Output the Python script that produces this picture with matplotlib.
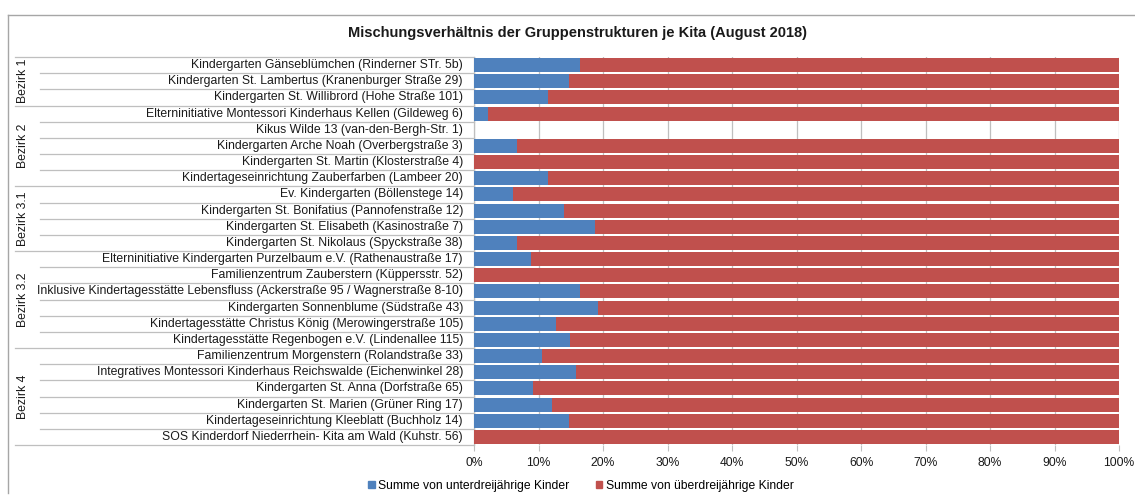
import matplotlib
matplotlib.use("Agg")
import matplotlib.pyplot as plt
from matplotlib.lines import Line2D
from matplotlib.patches import Rectangle
from matplotlib.ticker import PercentFormatter

plt.rcParams['font.family'] = ['Liberation Sans', 'DejaVu Sans']

title = "Mischungsverhältnis der Gruppenstrukturen je Kita (August 2018)"

kitas = [
    "Kindergarten Gänseblümchen (Rinderner STr. 5b)",
    "Kindergarten St. Lambertus (Kranenburger Straße 29)",
    "Kindergarten St. Willibrord (Hohe Straße 101)",
    "Elterninitiative Montessori Kinderhaus Kellen (Gildeweg 6)",
    "Kikus Wilde 13 (van-den-Bergh-Str. 1)",
    "Kindergarten Arche Noah (Overbergstraße 3)",
    "Kindergarten St. Martin (Klosterstraße 4)",
    "Kindertageseinrichtung Zauberfarben (Lambeer 20)",
    "Ev. Kindergarten (Böllenstege 14)",
    "Kindergarten St. Bonifatius (Pannofenstraße 12)",
    "Kindergarten St. Elisabeth (Kasinostraße 7)",
    "Kindergarten St. Nikolaus (Spyckstraße 38)",
    "Elterninitiative Kindergarten Purzelbaum e.V. (Rathenaustraße 17)",
    "Familienzentrum Zauberstern (Küppersstr. 52)",
    "Inklusive Kindertagesstätte Lebensfluss (Ackerstraße 95 / Wagnerstraße 8-10)",
    "Kindergarten Sonnenblume (Südstraße 43)",
    "Kindertagesstätte Christus König (Merowingerstraße 105)",
    "Kindertagesstätte Regenbogen e.V. (Lindenallee 115)",
    "Familienzentrum Morgenstern (Rolandstraße 33)",
    "Integratives Montessori Kinderhaus Reichswalde (Eichenwinkel 28)",
    "Kindergarten St. Anna (Dorfstraße 65)",
    "Kindergarten St. Marien (Grüner Ring 17)",
    "Kindertageseinrichtung Kleeblatt (Buchholz 14)",
    "SOS Kinderdorf Niederrhein- Kita am Wald (Kuhstr. 56)",
]

groups = ["Bezirk 1", "Bezirk 2", "Bezirk 3.1", "Bezirk 3.2", "Bezirk 4"]
group_sizes = [3, 5, 4, 6, 6]

# share (%) of children under three
unter3 = [16.5, 14.7, 11.5, 2.1, 0.0, 6.7, 0.0, 11.5, 6.1, 14.0, 18.8, 6.7,
          8.9, 0.0, 16.4, 19.2, 12.7, 14.9, 10.5, 15.8, 9.1, 12.1, 14.7, 0.0]
# share (%) of children over three
ueber3 = [83.5, 85.3, 88.5, 97.9, 0.0, 93.3, 100.0, 88.5, 93.9, 86.0, 81.2, 93.3,
          91.1, 100.0, 83.6, 80.8, 87.3, 85.1, 89.5, 84.2, 90.9, 87.9, 85.3, 100.0]

series_names = ["Summe von unterdreijährige Kinder", "Summe von überdreijährige Kinder"]
xticks = [0, 10, 20, 30, 40, 50, 60, 70, 80, 90, 100]

W, H = 1135, 495
fig = plt.figure(figsize=(W / 100, H / 100), dpi=100)

x0, x1 = 474, 1119
y0, y1 = 57, 445
ax = fig.add_axes([x0 / W, (H - y1) / H, (x1 - x0) / W, (y1 - y0) / H])

blue = "#4F81BD"
red = "#C0504D"
grid_c = "#BFBFBF"
txt_c = "#1a1a1a"

n = len(kitas)
ypos = list(range(n))
ax.barh(ypos, unter3, height=0.86, color=blue, zorder=3, label=series_names[0])
ax.barh(ypos, ueber3, left=unter3, height=0.86, color=red, zorder=3, label=series_names[1])

ax.set_xlim(0, 100)
ax.set_ylim(n - 0.5, -0.5)
ax.set_xticks(xticks)
ax.xaxis.set_major_formatter(PercentFormatter(decimals=0))
ax.tick_params(axis='x', length=4, color=grid_c, labelsize=8.7, pad=5, labelcolor=txt_c)
ax.set_yticks([])
ax.grid(axis='x', color=grid_c, linewidth=0.9, zorder=0)
for s in ["top", "right"]:
    ax.spines[s].set_visible(False)
ax.spines["bottom"].set_visible(False)
ax.spines["left"].set_color(grid_c)
ax.spines["left"].set_linewidth(0.9)

# category labels
px = lambda p: (p - x0) / (x1 - x0)  # pixel x -> axes coords
tr = ax.get_yaxis_transform()
for i, name in enumerate(kitas):
    ax.text(px(463), i, name, transform=tr, ha='right', va='center', fontsize=8.8,
            color=txt_c, clip_on=False)

# separator lines and group labels
start = 0
bounds = [-0.5]
for g, sz in zip(groups, group_sizes):
    end = start + sz
    ax.text(px(22.5), (start + end - 1) / 2, g, transform=tr, rotation=90,
            ha='center', va='center', fontsize=8.8, color=txt_c, clip_on=False)
    for k in range(start + 1, end):
        ax.add_line(Line2D([px(40), 0], [k - 0.5, k - 0.5], transform=tr,
                           color=grid_c, linewidth=0.9, clip_on=False))
    start = end
    bounds.append(end - 0.5)
for b in bounds:
    ax.add_line(Line2D([px(15), 0], [b, b], transform=tr,
                       color=grid_c, linewidth=0.9, clip_on=False))

# outer chart border
fig.add_artist(Line2D([8 / W, 1 - 0.5 / W], [1 - 15 / H, 1 - 15 / H],
                      transform=fig.transFigure, color="#A6A6A6", linewidth=1.0))
fig.add_artist(Line2D([8 / W, 8 / W], [1 - 15 / H, 2 / H],
                      transform=fig.transFigure, color="#A6A6A6", linewidth=1.0))

fig.text(578 / W, 1 - 33 / H, title, ha='center', va='center', fontsize=10.5,
         fontweight='bold', color=txt_c)

# legend
handles = [Rectangle((0, 0), 1, 1, color=blue), Rectangle((0, 0), 1, 1, color=red)]
fig.legend(handles, series_names, loc='center', bbox_to_anchor=(581 / W, 1 - 486 / H),
           ncol=2, frameon=False, fontsize=8.7, handlelength=0.5, handleheight=0.5,
           handletextpad=0.3, columnspacing=2.2)

fig.savefig("out.png", dpi=100)
